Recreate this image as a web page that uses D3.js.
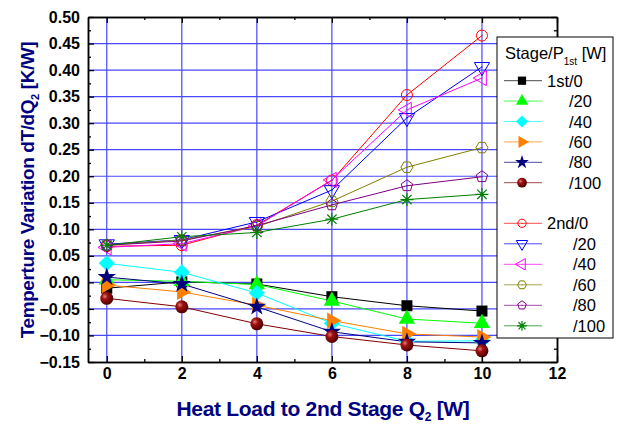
<!DOCTYPE html>
<html>
<head>
<meta charset="utf-8">
<script src="https://cdn.jsdelivr.net/npm/d3@7"></script>
<style>
  body { margin: 0; background: #fff; }
  svg { font-family: "Liberation Sans", Arial, sans-serif; }
</style>
</head>
<body>
<div id="chart"></div>
<script>
// heat load on the 2nd stage [W]
const qLoad = [0, 2, 4, 6, 8, 10];

// 1st stage temperature variation, one list per P1st
const first0 = [-0.011, 0.001, -0.003, -0.027, -0.044, -0.054];
const first20 = [0.005, 0.002, -0.004, -0.035, -0.069, -0.077];
const first40 = [0.036, 0.019, -0.020, -0.077, -0.111, -0.110];
const first60 = [-0.005, -0.018, -0.043, -0.072, -0.097, -0.103];
const first80 = [0.010, -0.003, -0.046, -0.093, -0.112, -0.114];
const first100 = [-0.030, -0.046, -0.078, -0.102, -0.118, -0.129];

// 2nd stage temperature variation
const second0 = [0.068, 0.070, 0.108, 0.192, 0.353, 0.465];
const second20 = [0.072, 0.080, 0.114, 0.174, 0.310, 0.406];
const second40 = [0.066, 0.073, 0.106, 0.193, 0.325, 0.385];
const second60 = [0.070, 0.080, 0.105, 0.153, 0.217, 0.254];
const second80 = [0.070, 0.078, 0.107, 0.146, 0.182, 0.199];
const second100 = [0.070, 0.086, 0.094, 0.119, 0.156, 0.166];

const legendLabels = ["1st/0", "/20", "/40", "/60", "/80", "/100",
                      "2nd/0", "/20", "/40", "/60", "/80", "/100"];

const xTicks = [0, 2, 4, 6, 8, 10, 12];
const yTicks = d3.range(-0.15, 0.5001, 0.05);

const series = [
  { values: first0, color: "#000000", marker: "square", fill: true },
  { values: first20, color: "#00ff00", marker: "triUp", fill: true },
  { values: first40, color: "#00ffff", marker: "diamond", fill: true },
  { values: first60, color: "#ff8000", marker: "triRight", fill: true },
  { values: first80, color: "#000080", marker: "star", fill: true },
  { values: first100, color: "#800000", marker: "sphere", fill: true },
  { values: second0, color: "#ff0000", marker: "circle", fill: false },
  { values: second20, color: "#0000ff", marker: "triDown", fill: false },
  { values: second40, color: "#ff00ff", marker: "triLeft", fill: false },
  { values: second60, color: "#808000", marker: "hexagon", fill: false },
  { values: second80, color: "#800080", marker: "pentagon", fill: false },
  { values: second100, color: "#008000", marker: "asterisk", fill: false },
];
series.forEach((s, i) => s.label = legendLabels[i]);

const width = 617;
const height = 425;
const plot = { left: 88, right: 557, top: 17, bottom: 362 };

const x = d3.scaleLinear().domain([-0.5, 12]).range([plot.left, plot.right]);
const y = d3.scaleLinear().domain([-0.15, 0.5]).range([plot.bottom, plot.top]);

const svg = d3.select("#chart")
  .append("svg")
    .attr("width", width)
    .attr("height", height);

const defs = svg.append("defs");
const grad = defs.append("radialGradient")
    .attr("id", "ball")
    .attr("cx", "35%").attr("cy", "35%").attr("r", "65%");
grad.append("stop").attr("offset", "0%").attr("stop-color", "#e08080");
grad.append("stop").attr("offset", "35%").attr("stop-color", "#a01010");
grad.append("stop").attr("offset", "100%").attr("stop-color", "#500000");

// grid
const gridColor = "#4848ff";
svg.append("g")
  .selectAll("line")
  .data(xTicks.filter((d) => d < 12))
  .join("line")
    .attr("x1", (d) => x(d)).attr("x2", (d) => x(d))
    .attr("y1", plot.top).attr("y2", plot.bottom)
    .attr("stroke", gridColor).attr("stroke-width", 1.2);

svg.append("g")
  .selectAll("line")
  .data(yTicks.filter((d) => d > -0.149 && d < 0.499))
  .join("line")
    .attr("x1", plot.left).attr("x2", plot.right)
    .attr("y1", (d) => y(d)).attr("y2", (d) => y(d))
    .attr("stroke", gridColor).attr("stroke-width", 1.2);

// marker drawing
const polygon = (n, r, rot) => {
  const pts = d3.range(n).map((i) => {
    const a = rot + i * 2 * Math.PI / n;
    return [r * Math.cos(a), r * Math.sin(a)];
  });
  return "M" + pts.map((p) => p.join(",")).join("L") + "Z";
};

function drawMarker(g, s, k) {
  const c = s.color;
  const a = k * k;
  switch (s.marker) {
    case "square":
      g.append("path").attr("d", d3.symbol(d3.symbolSquare, 121 * a)()).attr("fill", c);
      break;
    case "triUp":
      g.append("path").attr("d", d3.symbol(d3.symbolTriangle, 115 * a)()).attr("fill", c);
      break;
    case "diamond":
      g.append("path").attr("d", polygon(4, 8 * k, -Math.PI / 2)).attr("fill", c);
      break;
    case "triRight":
      g.append("path").attr("d", d3.symbol(d3.symbolTriangle, 115 * a)())
        .attr("transform", "rotate(90)").attr("fill", c);
      break;
    case "star":
      g.append("path").attr("d", d3.symbol(d3.symbolStar, 105 * a)()).attr("fill", c);
      break;
    case "sphere":
      g.append("circle").attr("r", 6.5 * k).attr("fill", "url(#ball)");
      break;
    case "circle":
      g.append("circle").attr("r", 5.5 * k).attr("fill", "none").attr("stroke", c);
      break;
    case "triDown":
      g.append("path").attr("d", d3.symbol(d3.symbolTriangle, 100 * a)())
        .attr("transform", "rotate(180)").attr("fill", "none").attr("stroke", c);
      break;
    case "triLeft":
      g.append("path").attr("d", d3.symbol(d3.symbolTriangle, 100 * a)())
        .attr("transform", "rotate(-90)").attr("fill", "none").attr("stroke", c);
      break;
    case "hexagon":
      g.append("path").attr("d", polygon(6, 6 * k, 0)).attr("fill", "none").attr("stroke", c);
      break;
    case "pentagon":
      g.append("path").attr("d", polygon(5, 6 * k, -Math.PI / 2)).attr("fill", "none").attr("stroke", c);
      break;
    case "asterisk": {
      const r = 6.5 * k, d = r * 0.72;
      g.append("path").attr("d", `M0,${-r}V${r}M${-r},0H${r}M${-d},${-d}L${d},${d}M${-d},${d}L${d},${-d}`)
        .attr("stroke", c).attr("stroke-width", 1.2);
      break;
    }
  }
  if (!s.fill && s.marker !== "asterisk") {
    g.append("circle").attr("r", 0.6).attr("fill", c);
  }
}

const line = d3.line()
  .x((d) => x(d[0]))
  .y((d) => y(d[1]));

// second stage first, first stage on top
const drawOrder = series.slice(6).concat(series.slice(0, 6));
drawOrder.forEach((s) => {
  const pts = qLoad.map((q, i) => [q, s.values[i]]);
  svg.append("path")
    .attr("d", line(pts))
    .attr("fill", "none")
    .attr("stroke", s.color)
    .attr("stroke-width", 1);
});
drawOrder.forEach((s) => {
  const pts = qLoad.map((q, i) => [q, s.values[i]]);
  svg.append("g")
    .selectAll("g")
    .data(pts)
    .join("g")
      .attr("transform", (d) => `translate(${x(d[0])},${y(d[1])})`)
      .each(function () { drawMarker(d3.select(this), s, 1); });
});

// axes, ticks pointing inward
const tickFont = (g) => g.selectAll("text")
  .attr("font-size", 16).attr("font-weight", "bold").attr("fill", "#000");
const minorX = d3.range(1, 12, 2);
const minorY = d3.range(-0.125, 0.5, 0.05);

svg.append("g")
  .attr("transform", `translate(0,${plot.bottom})`)
  .call(d3.axisBottom(x).tickValues(xTicks).tickSizeInner(-6).tickSizeOuter(0).tickPadding(6))
  .call(tickFont);
svg.append("g")
  .attr("transform", `translate(0,${plot.bottom})`)
  .call(d3.axisBottom(x).tickValues(minorX).tickSizeInner(-3).tickSizeOuter(0).tickFormat(""));
svg.append("g")
  .attr("transform", `translate(0,${plot.top})`)
  .call(d3.axisTop(x).tickValues(xTicks).tickSizeInner(-6).tickSizeOuter(0).tickFormat(""));
svg.append("g")
  .attr("transform", `translate(0,${plot.top})`)
  .call(d3.axisTop(x).tickValues(minorX).tickSizeInner(-3).tickSizeOuter(0).tickFormat(""));

svg.append("g")
  .attr("transform", `translate(${plot.left},0)`)
  .call(d3.axisLeft(y).tickValues(yTicks).tickSizeInner(-6).tickSizeOuter(0).tickPadding(8)
    .tickFormat(d3.format(".2f")))
  .call(tickFont);
svg.append("g")
  .attr("transform", `translate(${plot.left},0)`)
  .call(d3.axisLeft(y).tickValues(minorY).tickSizeInner(-3).tickSizeOuter(0).tickFormat(""));
svg.append("g")
  .attr("transform", `translate(${plot.right},0)`)
  .call(d3.axisRight(y).tickValues(yTicks).tickSizeInner(-6).tickSizeOuter(0).tickFormat(""));
svg.append("g")
  .attr("transform", `translate(${plot.right},0)`)
  .call(d3.axisRight(y).tickValues(minorY).tickSizeInner(-3).tickSizeOuter(0).tickFormat(""));

svg.selectAll(".domain").attr("stroke", "#000").attr("stroke-width", 1.5);
svg.selectAll(".tick line").attr("stroke", "#000").attr("stroke-width", 1.3);

// axis titles
const xTitle = svg.append("text")
  .attr("x", 323)
  .attr("y", 416)
  .attr("text-anchor", "middle")
  .attr("font-size", 21).attr("font-weight", "bold").attr("fill", "#000080")
  .attr("letter-spacing", -0.3);
xTitle.append("tspan").text("Heat Load to 2nd Stage Q");
xTitle.append("tspan").attr("font-size", 12).attr("dy", 5).text("2");
xTitle.append("tspan").attr("dy", -5).text(" [W]");

const yTitle = svg.append("text")
  .attr("transform", `translate(34,190) rotate(-90)`)
  .attr("text-anchor", "middle")
  .attr("font-size", 19).attr("font-weight", "bold").attr("fill", "#000080")
  .attr("letter-spacing", -0.4);
yTitle.append("tspan").text("Temperture Variation dT/dQ");
yTitle.append("tspan").attr("font-size", 11).attr("dy", 5).text("2");
yTitle.append("tspan").attr("dy", -5).text(" [K/W]");

// legend
const legend = svg.append("g");
legend.append("rect")
  .attr("x", 497).attr("y", 37)
  .attr("width", 116).attr("height", 301)
  .attr("fill", "#fff").attr("stroke", "#000").attr("stroke-width", 1);

const title = legend.append("text")
  .attr("x", 505).attr("y", 59)
  .attr("font-size", 16.5).attr("fill", "#000");
title.append("tspan").text("Stage/P");
title.append("tspan").attr("font-size", 10).attr("dy", 6).text("1st");
title.append("tspan").attr("dy", -6).text(" [W]");

series.forEach((s, i) => {
  const cy = i < 6 ? 80.7 + i * 20.4 : 223.3 + (i - 6) * 20.5;
  const g = legend.append("g").attr("transform", `translate(0,${cy})`);
  g.append("line")
    .attr("x1", 504).attr("x2", 542)
    .attr("stroke", s.color).attr("stroke-width", 1).attr("opacity", 0.7);
  const m = g.append("g").attr("transform", "translate(522,0)");
  drawMarker(m, s, 0.75);
  const tx = (i === 0 || i === 6) ? 547 : (i < 6 ? 569 : 573);
  g.append("text")
    .attr("x", tx).attr("y", 6)
    .attr("font-size", 16.5).attr("fill", "#000")
    .text(s.label);
});
</script>
</body>
</html>
